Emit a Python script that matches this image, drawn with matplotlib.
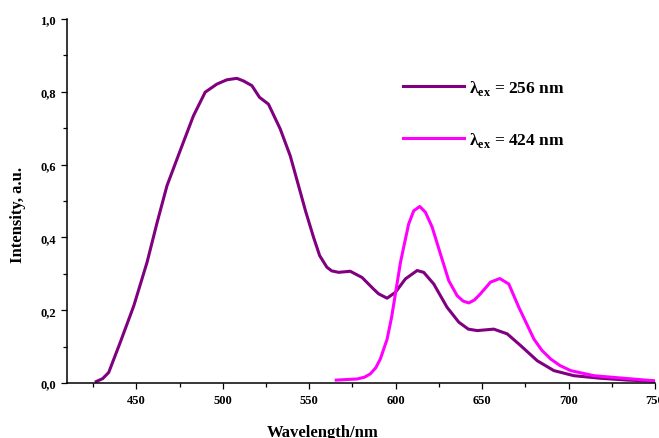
import matplotlib
matplotlib.use('Agg')
import matplotlib.pyplot as plt
from matplotlib.ticker import MultipleLocator, FuncFormatter

plt.rcParams['font.family'] = ['Liberation Serif', 'DejaVu Serif']
plt.rcParams['font.weight'] = 'bold'
plt.rcParams['mathtext.fontset'] = 'custom'
plt.rcParams['mathtext.rm'] = 'Liberation Serif:bold'
plt.rcParams['mathtext.bf'] = 'Liberation Serif:bold'

# lambda_ex = 256 nm
wl_256 = [426.8, 430.5, 434, 440.7, 448.5, 456.2, 462, 467.7, 475.3, 483, 489.8,
          496.5, 502.3, 508.1, 511.9, 516.8, 521.2, 526.4, 533.2, 539, 543.8, 548,
          552.5, 556, 560.2, 563, 567, 573.7, 580.5, 587.2, 590.1, 595, 599.8, 605.6,
          612.4, 616.2, 622, 629.7, 636.5, 642, 647.1, 652, 656.7, 664.5, 672.2,
          681.9, 691.5, 703.1, 718.5, 734, 749.4]
int_256 = [0.004, 0.012, 0.029, 0.112, 0.212, 0.332, 0.441, 0.542, 0.638, 0.734, 0.799,
           0.821, 0.833, 0.837, 0.830, 0.817, 0.785, 0.766, 0.698, 0.624, 0.542, 0.470,
           0.400, 0.350, 0.318, 0.308, 0.304, 0.307, 0.290, 0.258, 0.245, 0.233, 0.249,
           0.286, 0.309, 0.304, 0.272, 0.208, 0.167, 0.148, 0.144, 0.146, 0.148, 0.135,
           0.103, 0.061, 0.034, 0.020, 0.013, 0.008, 0.005]

# lambda_ex = 424 nm
wl_424 = [565.6, 577.6, 582, 585.3, 588.5, 591.1, 595, 597.6, 600, 602.7, 604.6,
          607.5, 610.4, 613.9, 617.2, 621.1, 625.9, 630.7, 635.5, 639, 642.3, 645.5,
          649, 654.8, 660.2, 665.4, 671.2, 675.5, 679.9, 684.5, 689.6, 695, 701.2,
          714.7, 732, 749.4]
int_424 = [0.008, 0.011, 0.016, 0.025, 0.042, 0.066, 0.120, 0.180, 0.250, 0.330, 0.373,
           0.437, 0.473, 0.485, 0.469, 0.428, 0.354, 0.281, 0.240, 0.225, 0.220, 0.228,
           0.245, 0.277, 0.287, 0.272, 0.208, 0.165, 0.121, 0.090, 0.066, 0.048, 0.034,
           0.020, 0.013, 0.006]

labels = [r'λ$_{\mathbf{ex}}$ = 256 nm', r'λ$_{\mathbf{ex}}$ = 424 nm']
colors = ['#800080', '#FF00FF']

fig = plt.figure(figsize=(6.59, 4.39), dpi=100)
ax = fig.add_axes([0.102, 0.1253, 0.892, 0.8291])

ax.plot(wl_256, int_256, color=colors[0], lw=2.2, label=labels[0],
        solid_joinstyle='round')
ax.plot(wl_424, int_424, color=colors[1], lw=2.2, label=labels[1],
        solid_joinstyle='round')

ax.set_xlim(410, 750)
ax.set_ylim(0, 1.0)
ax.xaxis.set_major_locator(MultipleLocator(50))
ax.xaxis.set_minor_locator(MultipleLocator(25))
ax.yaxis.set_major_locator(MultipleLocator(0.2))
ax.yaxis.set_minor_locator(MultipleLocator(0.1))
ax.yaxis.set_major_formatter(FuncFormatter(lambda v, p: f'{v:.1f}'.replace('.', ',')))
ax.xaxis.set_major_formatter(FuncFormatter(lambda v, p: f'{v:.0f}' if v > 410 else ''))

for s in ['top', 'right']:
    ax.spines[s].set_visible(False)
for s in ['left', 'bottom']:
    ax.spines[s].set_linewidth(1.1)

ax.tick_params(which='major', direction='out', length=4.5, width=0.9, labelsize=9)
ax.tick_params(which='minor', direction='out', length=3, width=0.9)

ax.set_xlabel('Wavelength/nm', fontsize=12, fontweight='bold')
ax.set_ylabel('Intensity, a.u.', fontsize=12, fontweight='bold')
ax.xaxis.set_label_coords(0.435, -0.112)
ax.yaxis.set_label_coords(-0.07, 0.464)

ax.legend(loc='upper left', bbox_to_anchor=(0.545, 0.88), frameon=False,
          prop={'size': 12.5, 'weight': 'bold'}, handlelength=3.5, handletextpad=0.3,
          labelspacing=1.9)

fig.savefig('out.png', dpi=100)
